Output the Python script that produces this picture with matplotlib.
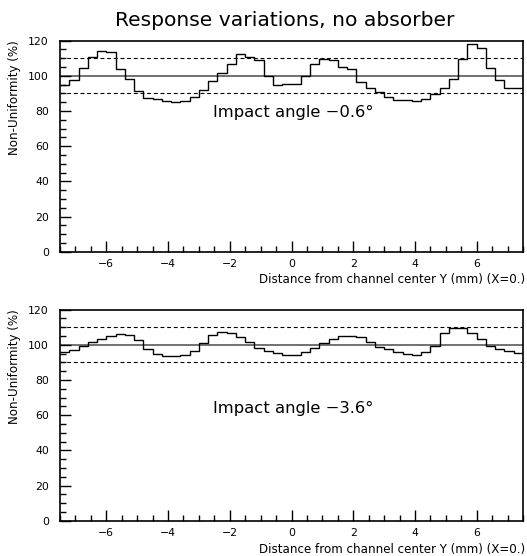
import matplotlib

matplotlib.use("Agg")
import matplotlib.pyplot as plt
import numpy as np
from matplotlib.ticker import MultipleLocator

# 50 bins of 0.3 mm across the channel
Y_MIN, Y_MAX, N_BINS = -7.5, 7.5, 50

angle_top = "Impact angle \u22120.6\u00b0"
resp_top = [
    94.7, 97.9, 104.2, 110.9, 114.1, 113.7, 103.8, 98.1, 91.2, 87.6,
    87.0, 85.5, 85.1, 85.7, 87.8, 92.2, 97.0, 101.7, 107.0, 112.4,
    110.9, 109.0, 100.0, 95.0, 95.2, 95.6, 100.0, 107.0, 109.5, 109.1,
    105.1, 103.8, 96.6, 93.1, 90.9, 88.0, 86.5, 86.1, 85.5, 87.0,
    89.9, 93.1, 98.1, 109.5, 118.1, 116.0, 104.2, 97.5, 93.1, 93.3,
]

angle_bot = "Impact angle \u22123.6\u00b0"
resp_bot = [
    96.0, 97.0, 99.4, 101.5, 103.4, 105.3, 106.0, 105.7, 102.5, 97.5,
    95.0, 93.5, 93.5, 94.5, 96.5, 101.0, 105.7, 107.5, 107.0, 104.7,
    101.5, 98.5, 96.5, 95.5, 94.5, 94.5, 96.0, 98.5, 101.0, 103.3,
    105.3, 105.3, 104.3, 101.5, 99.0, 97.5, 96.0, 95.0, 94.5, 96.0,
    99.5, 106.6, 109.4, 109.4, 106.6, 103.4, 99.5, 97.5, 96.5, 95.5,
]

XLABEL = "Distance from channel center Y (mm) (X=0.)"
YLABEL = "Non-Uniformity (%)"
TITLE = "Response variations, no absorber"

W, H = 527, 556


def draw_panel(ax, values, label, label_y):
    edges = np.linspace(Y_MIN, Y_MAX, N_BINS + 1)
    ax.axhline(100, color="0.4", lw=1.3, zorder=1)
    for lev in (90, 110):
        ax.axhline(lev, color="black", lw=0.8, ls=(0, (3.5, 2.5)), zorder=1)
    ax.stairs(values, edges, baseline=None, color="black", lw=1.0, zorder=2)

    ax.set_xlim(Y_MIN, Y_MAX)
    ax.set_ylim(0, 120)
    ax.xaxis.set_major_locator(MultipleLocator(2))
    ax.xaxis.set_minor_locator(MultipleLocator(0.5))
    ax.yaxis.set_major_locator(MultipleLocator(20))
    ax.yaxis.set_minor_locator(MultipleLocator(5))
    ax.tick_params(which="both", direction="in", top=False, right=False,
                   width=1.0, labelsize=7.8)
    ax.tick_params(which="major", length=8)
    ax.tick_params(which="minor", length=4)
    ax.tick_params(axis="x", pad=5)
    ax.tick_params(axis="y", pad=8)
    for sp in ax.spines.values():
        sp.set_linewidth(1.2)

    ax.text(-2.54, label_y, label, fontsize=11.8, va="center", ha="left")


def main():
    fig = plt.figure(figsize=(W / 100, H / 100), dpi=100)

    left, width = 60 / W, 463 / W
    height = 211 / H
    panels = [
        (resp_top, angle_top, 79, 251.7, 280),
        (resp_bot, angle_bot, 64, 520.7, 549),
    ]
    for values, label, label_y, bottom_px, xlab_px in panels:
        ax = fig.add_axes([left, 1 - bottom_px / H, width, height])
        draw_panel(ax, values, label, label_y)
        fig.text(525 / W, 1 - xlab_px / H, XLABEL, ha="right", va="center",
                 fontsize=8.6)
        top_px = bottom_px - 211
        fig.text(15 / W, 1 - top_px / H, YLABEL, rotation=90, ha="center",
                 va="top", fontsize=8.6)

    fig.text(285 / W, 1 - 20 / H, TITLE, ha="center", va="center",
             fontsize=14.6)

    fig.savefig("out.png", dpi=100)
    plt.close(fig)


if __name__ == "__main__":
    main()
